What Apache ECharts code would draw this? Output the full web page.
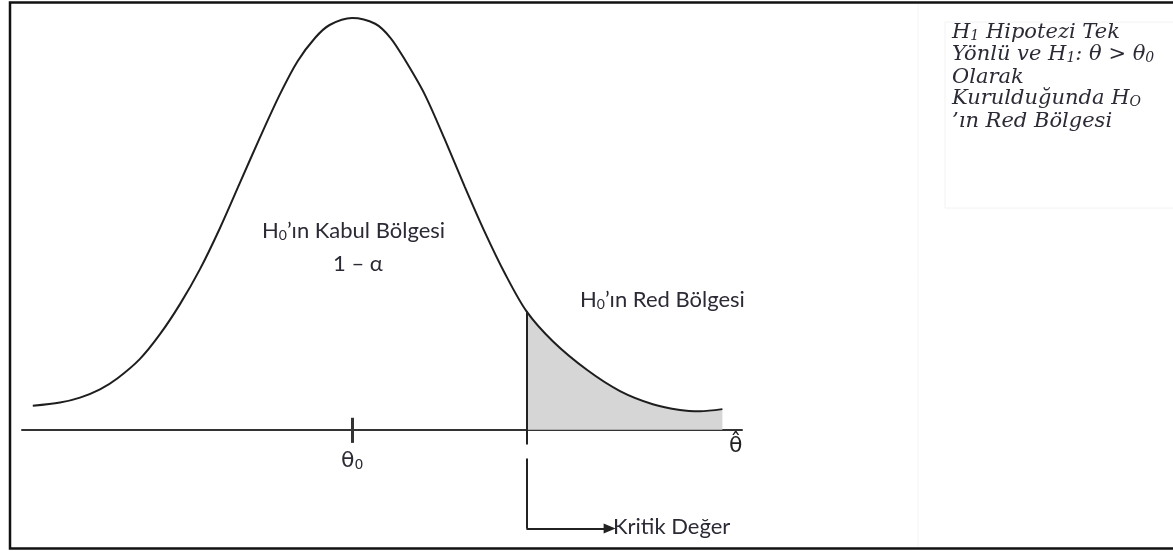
<!DOCTYPE html>
<html>
<head>
<meta charset="utf-8">
<script src="https://cdn.jsdelivr.net/npm/echarts@6/dist/echarts.min.js"></script>
<style>
html,body{margin:0;padding:0;background:#fff}
#main{width:1173px;height:551px}
</style>
</head>
<body>
<div id="main"></div>
<script>
// x: theta-hat ekseni, theta0 = 0 ; y: egri yuksekligi (tepe = 1)
var curveX = [-3.99,-3.65,-3.4,-3.15,-2.93,-2.65,-2.4,-2.15,-1.9,-1.65,-1.4,-1.15,-0.9,-0.68,-0.46,-0.28,0,
	0.29,0.48,0.66,0.91,1.16,1.41,1.66,1.91,2.18,2.51,2.94,3.35,3.76,4.1,4.35,4.63];
var curveY = [0.058,0.066,0.078,0.098,0.125,0.172,0.232,0.305,0.39,0.49,0.6,0.71,0.815,0.895,0.952,0.983,1.0,
	0.986,0.952,0.899,0.814,0.705,0.59,0.48,0.38,0.288,0.215,0.145,0.094,0.062,0.048,0.045,0.05];
var theta0 = 0;
var critX = 2.18;      // kritik deger
var critY = 0.288;
var arrowEndX = 3.22;

var font = 'Lato, "Open Sans", sans-serif';
var serif = '"DejaVu Serif", serif';
var txt = '#2b2b36';

var curve = [];
var tail = [];
for (var i = 0; i < curveX.length; i++) {
	curve.push([curveX[i], curveY[i]]);
	if (curveX[i] >= critX) tail.push([curveX[i], curveY[i]]);
}

function sub(main, s, size, fam, italic) {
	return {
		text: '{h|' + main[0] + '}{s|' + s + '}{h|' + main[1] + '}',
		rich: richStyle(size, fam, italic)
	};
}
function richStyle(size, fam, italic) {
	return {
		h: {fontSize: size, fontFamily: fam, fontStyle: italic ? 'italic' : 'normal', fill: txt, lineHeight: size + 2, verticalAlign: 'bottom'},
		s: {fontSize: Math.round(size * 0.65), fontFamily: fam, fontStyle: italic ? 'italic' : 'normal', fill: txt, lineHeight: Math.round(size * 0.5), verticalAlign: 'bottom'}
	};
}

var mychart = echarts.init(document.getElementById('main'));
var option = {
	animation: false,
	backgroundColor: '#fff',
	grid: {left: 22, right: 431, top: 18, bottom: 6},
	xAxis: {
		type: 'value', min: -4.125, max: 4.875,
		splitLine: {show: false},
		axisTick: {show: false},
		axisLabel: {show: false},
		axisLine: {show: true, onZero: true, lineStyle: {color: '#333', width: 2}}
	},
	yAxis: {
		type: 'value', min: -0.28, max: 1,
		show: false
	},
	series: [{
		name: 'tail',
		type: 'line',
		data: tail,
		smooth: 0.3,
		showSymbol: false,
		lineStyle: {width: 0},
		areaStyle: {color: '#d6d6d6', opacity: 1},
		z: 1
	}, {
		name: 'curve',
		type: 'line',
		data: curve,
		smooth: 0.3,
		showSymbol: false,
		lineStyle: {color: '#1e1e1e', width: 2},
		z: 3,
		markLine: {
			silent: true,
			symbol: ['none', 'none'],
			label: {show: false},
			lineStyle: {color: '#222', width: 2, type: 'solid'},
			data: [
				[{coord: [theta0, 0.029], lineStyle: {width: 3, color: '#333'}}, {coord: [theta0, -0.032]}],
				[{coord: [critX, critY]}, {coord: [critX, -0.036]}],
				[{coord: [critX, -0.07]}, {coord: [critX, -0.24]}],
				[{coord: [critX, -0.24]}, {coord: [arrowEndX, -0.24], symbol: 'triangle', symbolSize: [10, 12]}]
			]
		}
	}],
	graphic: [
		{type: 'rect', shape: {x: 10, y: 2.5, width: 1175, height: 546}, style: {fill: 'none', stroke: '#111', lineWidth: 2.5}, z: 10},
		{type: 'rect', shape: {x: 945, y: 22, width: 240, height: 186}, style: {fill: 'none', stroke: '#f2f2f2', lineWidth: 1}},
		{type: 'line', shape: {x1: 918, y1: 4, x2: 918, y2: 547}, style: {stroke: '#f4f4f4', lineWidth: 1}},

		{type: 'text', left: 262, top: 220, style: sub(['H', '\u2019ın Kabul Bölgesi'], '0', 22, font)},
		{type: 'text', left: 333, top: 253, style: {text: '1 \u2013 α', font: '22px ' + font, fill: txt}},
		{type: 'text', left: 580, top: 289, style: sub(['H', '\u2019ın Red Bölgesi'], '0', 22, font)},
		{type: 'text', left: 558, top: 386, style: {text: 'α', font: '20px ' + serif, fill: txt}},
		{type: 'text', left: 341, top: 450, style: sub(['θ', ''], '0', 22, '"DejaVu Sans", sans-serif')},
		{type: 'text', left: 729, top: 435, style: {text: 'θ\u0302', font: '22px "DejaVu Sans", sans-serif', fill: '#222'}},
		{type: 'text', left: 613, top: 516, style: {text: 'Kritik Değer', font: '22px ' + font, fill: txt}},

		{type: 'text', left: 952, top: 22, style: sub(['H', ' Hipotezi Tek'], '1', 21, serif, true)},
		{type: 'text', left: 952, top: 44, style: {
			text: '{h|Yönlü ve H}{s|1}{h|: θ > θ}{s|0}',
			rich: richStyle(21, serif, true)
		}},
		{type: 'text', left: 952, top: 67, style: {text: 'Olarak', font: 'italic 21px ' + serif, fill: txt}},
		{type: 'text', left: 952, top: 88, style: sub(['Kurulduğunda H', ''], 'O', 21, serif, true)},
		{type: 'text', left: 952, top: 111, style: {text: '\u2019ın Red Bölgesi', font: 'italic 21px ' + serif, fill: txt}}
	]
};
mychart.setOption(option);
</script>
</body>
</html>
